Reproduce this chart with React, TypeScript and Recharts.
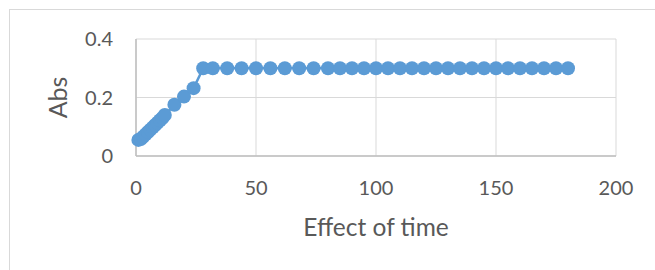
import React from "react";
import { LineChart, Line, XAxis, YAxis, CartesianGrid, Label } from "recharts";

const timeValues = [
  1, 2, 3, 4, 5, 6, 7, 8, 9, 10, 11, 12, 16, 20, 24, 28, 32, 38, 44, 50, 56, 62,
  68, 74, 80, 85, 90, 95, 100, 105, 110, 115, 120, 125, 130, 135, 140, 145, 150,
  155, 160, 165, 170, 175, 180,
];
const absValues = [
  0.055, 0.058, 0.066, 0.074, 0.082, 0.09, 0.098, 0.106, 0.114, 0.122, 0.13,
  0.14, 0.175, 0.203, 0.232, 0.3, 0.3, 0.3, 0.3, 0.3, 0.3, 0.3, 0.3, 0.3, 0.3,
  0.3, 0.3, 0.3, 0.3, 0.3, 0.3, 0.3, 0.3, 0.3, 0.3, 0.3, 0.3, 0.3, 0.3, 0.3,
  0.3, 0.3, 0.3, 0.3, 0.3,
];
const xTicks = [0, 50, 100, 150, 200];
const yTicks = [0, 0.2, 0.4];
const xTitle = "Effect of time";
const yTitle = "Abs";

const data = timeValues.map((t, i) => ({ t, abs: absValues[i] }));

const FONT = "Lato, 'Open Sans', sans-serif";
const TEXT = "#595959";
const BLUE = "#5B9BD5";

export default function App() {
  return (
    <div
      style={{
        position: "fixed",
        left: 0,
        top: 0,
        width: 655,
        height: 270,
        background: "#fff",
        fontFamily: FONT,
      }}
    >
      <div
        style={{
          position: "absolute",
          left: 9,
          top: 9,
          width: 660,
          height: 280,
          borderLeft: "1.5px solid #d9d9d9",
          borderTop: "1.5px solid #d9d9d9",
        }}
      />
      <div style={{ position: "absolute", left: 0, top: 0 }}>
        <LineChart
          width={655}
          height={270}
          data={data}
          margin={{ top: 39, right: 39, bottom: 34, left: 76 }}
        >
          <CartesianGrid stroke="#d9d9d9" strokeWidth={1} />
          <XAxis
            dataKey="t"
            type="number"
            domain={[0, 200]}
            ticks={xTicks}
            interval={0}
            tickLine={false}
            axisLine={{ stroke: "#bfbfbf", strokeWidth: 1.5 }}
            tick={{ fill: TEXT, fontSize: 20, fontFamily: FONT }}
            tickMargin={19}
            height={80}
          >
            <Label
              value={xTitle}
              position="insideBottom"
              offset={0}
              style={{ fill: TEXT, fontSize: 24.5, fontFamily: FONT }}
            />
          </XAxis>
          <YAxis
            type="number"
            domain={[0, 0.4]}
            ticks={yTicks}
            interval={0}
            tickLine={false}
            axisLine={{ stroke: "#bfbfbf", strokeWidth: 1.5 }}
            tick={{ fill: TEXT, fontSize: 20, fontFamily: FONT }}
            tickMargin={17}
            width={60}
          >
            <Label
              value={yTitle}
              angle={-90}
              position="insideLeft"
              offset={-18}
              style={{ fill: TEXT, fontSize: 25, fontFamily: FONT, textAnchor: "middle" }}
            />
          </YAxis>
          <Line
            dataKey="abs"
            type="linear"
            stroke={BLUE}
            strokeWidth={2.5}
            dot={{ r: 7, fill: BLUE, stroke: "none" }}
            activeDot={false}
            isAnimationActive={false}
          />
        </LineChart>
      </div>
    </div>
  );
}
